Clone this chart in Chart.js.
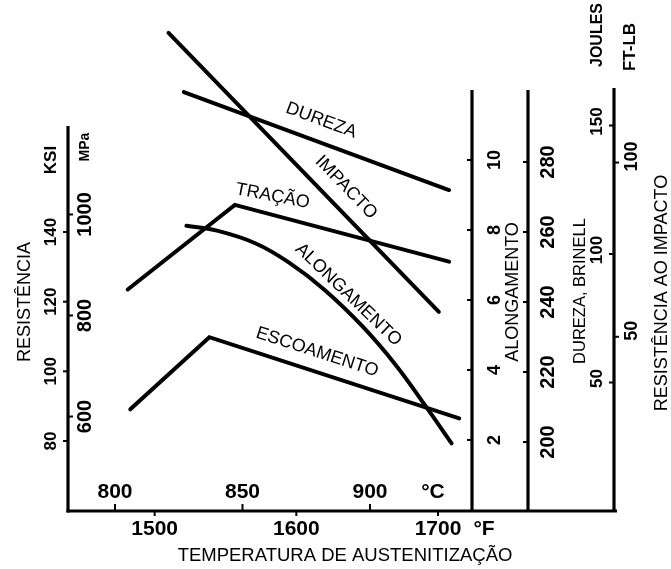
<!DOCTYPE html>
<html lang="pt">
<head>
<meta charset="utf-8">
<title>Temperatura de austenitização</title>
<script src="https://cdn.jsdelivr.net/npm/chart.js@4.4.1/dist/chart.umd.min.js"></script>
<style>
  html, body { margin: 0; padding: 0; background: #fff; }
  #wrap { width: 671px; height: 569px; }
</style>
</head>
<body>
<div id="wrap"><canvas id="chart" width="671" height="569"></canvas></div>
<script>
// Curves. x is always °C, each curve has its own y unit.
const tempDureza = [827, 931];
const durezaHB = [300, 272];

const tempImpacto = [821, 927];
const impactoJ = [186, 77.5];

const tempTracao = [805, 847, 931];
const tracaoKsi = [123.5, 147.8, 131.5];

const tempEscoamento = [806, 837, 935];
const escoamentoKsi = [89.1, 109.8, 86.5];

const tempAlongamento = [828, 840, 855, 868, 882, 897, 910, 921, 932];
const alongamentoPct = [8.12, 7.98, 7.62, 7.08, 6.3, 5.25, 4.15, 3.05, 1.9];

// tick labels
const ksiTicks = [80, 100, 120, 140];
const mpaTicks = [600, 800, 1000];
const alongTicks = [2, 4, 6, 8, 10];
const brinellTicks = [200, 220, 240, 260, 280];
const joulesTicks = [50, 100, 150];
const ftlbTicks = [50, 100];
const celsiusTicks = [800, 850, 900];
const fahrenheitTicks = [1500, 1600, 1700];

const FONT = '"Liberation Sans", Arial, sans-serif';
const bold = (px) => `bold ${px}px ${FONT}`;
const plain = (px) => `${px}px ${FONT}`;

// frame geometry (pixels) - the axis lines of the original drawing
const frame = { alongX: 472, hbX: 528, baseRight: 617, leftTop: 126, alongTop: 90, hbTop: 90, impactTop: 88 };

// curve names, where along the curve (°C) and how far off it the name sits
const curveLabels = [
  { ds: 0, text: "DUREZA", t: 878, d: 21 },
  { ds: 1, text: "IMPACTO", t: 885, d: 20 },
  { ds: 2, text: "TRAÇÃO", t: 860, d: 18, angle: 11 },
  { ds: 3, text: "ALONGAMENTO", t: 888, d: 13 },
  { ds: 4, text: "ESCOAMENTO", t: 877, d: 19 },
];

const toPts = (xs, ys) => xs.map((x, i) => ({ x, y: ys[i] }));
const fToC = (f) => (f - 32) * 5 / 9;
const mpaToKsi = (m) => m / 6.894757;
const ftlbToJ = (f) => f * 1.355818;

function seg(ctx, x1, y1, x2, y2) {
  ctx.beginPath();
  ctx.moveTo(x1, y1);
  ctx.lineTo(x2, y2);
  ctx.stroke();
}

function vText(ctx, text, x, y, font) {
  ctx.save();
  ctx.translate(x, y);
  ctx.rotate(-Math.PI / 2);
  ctx.font = font;
  ctx.fillText(text, 0, 0);
  ctx.restore();
}

function interp(xs, ys, t) {
  for (let i = 0; i < xs.length - 1; i++) {
    if (t >= xs[i] && t <= xs[i + 1]) {
      const f = (t - xs[i]) / (xs[i + 1] - xs[i]);
      return ys[i] + f * (ys[i + 1] - ys[i]);
    }
  }
  return t < xs[0] ? ys[0] : ys[ys.length - 1];
}

const axesPlugin = {
  id: "axes",
  afterDatasetsDraw(chart) {
    const { ctx, chartArea: a, scales } = chart;
    const x = scales.x, ksi = scales.ksi, al = scales.along, hb = scales.hb, jl = scales.joule;
    ctx.save();
    ctx.strokeStyle = "#000";
    ctx.fillStyle = "#000";
    ctx.textAlign = "center";
    ctx.textBaseline = "middle";

    // axis lines
    ctx.lineWidth = 3.2;
    seg(ctx, a.left, frame.leftTop, a.left, a.bottom + 1.5);
    seg(ctx, frame.alongX, frame.alongTop, frame.alongX, a.bottom);
    seg(ctx, frame.hbX, frame.hbTop, frame.hbX, a.bottom);
    seg(ctx, a.right, frame.impactTop, a.right, a.bottom);
    seg(ctx, a.left - 1.5, a.bottom, frame.baseRight, a.bottom);

    ctx.lineWidth = 2;
    // left: KSI / MPa
    ksiTicks.forEach((v) => {
      const y = ksi.getPixelForValue(v);
      seg(ctx, a.left - 5, y, a.left, y);
      vText(ctx, String(v), 51, y, bold(17));
    });
    mpaTicks.forEach((v) => {
      const y = ksi.getPixelForValue(mpaToKsi(v));
      seg(ctx, a.left, y, a.left + 5, y);
      vText(ctx, String(v), 85, y, bold(20));
    });
    vText(ctx, "KSI", 51, 160, bold(17));
    vText(ctx, "MPa", 85, 147, bold(14));
    vText(ctx, "RESISTÊNCIA", 25, 302, plain(18));

    // alongamento
    alongTicks.forEach((v) => {
      const y = al.getPixelForValue(v);
      seg(ctx, frame.alongX - 5, y, frame.alongX, y);
      vText(ctx, String(v), 495, y, bold(18));
    });
    vText(ctx, "ALONGAMENTO", 513, 292, plain(18));

    // dureza brinell
    brinellTicks.forEach((v) => {
      const y = hb.getPixelForValue(v);
      seg(ctx, frame.hbX - 5, y, frame.hbX, y);
      vText(ctx, String(v), 548, y, bold(20));
    });
    vText(ctx, "DUREZA, BRINELL", 580, 291, plain(16.5));

    // impacto: joules / ft-lb
    joulesTicks.forEach((v) => {
      const y = jl.getPixelForValue(v);
      seg(ctx, a.right - 5, y, a.right, y);
      vText(ctx, String(v), 597, y - 4, bold(17));
    });
    ftlbTicks.forEach((v) => {
      const y = jl.getPixelForValue(ftlbToJ(v));
      seg(ctx, a.right, y, a.right + 5, y);
      vText(ctx, String(v), 632, y - 6, bold(18));
    });
    vText(ctx, "JOULES", 598, 35, bold(16));
    vText(ctx, "FT-LB", 630, 47, bold(17));
    vText(ctx, "RESISTÊNCIA AO IMPACTO", 662, 293, plain(18));

    // temperature, °C inside, °F below
    ctx.font = bold(21);
    celsiusTicks.forEach((v) => {
      const px = x.getPixelForValue(v);
      seg(ctx, px, a.bottom - 7, px, a.bottom);
      ctx.fillText(String(v), px, 492);
    });
    ctx.fillText("°C", 433, 492);
    fahrenheitTicks.forEach((v) => {
      const px = x.getPixelForValue(fToC(v));
      seg(ctx, px, a.bottom, px, a.bottom + 5);
      ctx.fillText(String(v), px, 529);
    });
    ctx.fillText("°F", 484, 529);
    ctx.font = plain(18.5);
    ctx.fillText("TEMPERATURA DE AUSTENITIZAÇÃO", 345, 556);

    // curve names
    ctx.font = plain(18);
    curveLabels.forEach((lb) => {
      const ds = chart.data.datasets[lb.ds];
      const ys = scales[ds.yAxisID];
      const xs = ds.data.map((p) => p.x), vs = ds.data.map((p) => p.y);
      const px = (t) => [x.getPixelForValue(t), ys.getPixelForValue(interp(xs, vs, t))];
      const [x0, y0] = px(lb.t);
      const [xa, ya] = px(lb.t - 3);
      const [xb, yb] = px(lb.t + 3);
      const th = Math.atan2(yb - ya, xb - xa);
      const cx = x0 + lb.d * Math.sin(th), cy = y0 - lb.d * Math.cos(th);
      ctx.save();
      ctx.translate(cx, cy);
      ctx.rotate(lb.angle != null ? lb.angle * Math.PI / 180 : th);
      ctx.fillText(lb.text, 0, 0);
      ctx.restore();
    });
    ctx.restore();
  },
};

const lineStyle = {
  borderColor: "#000",
  borderWidth: 4,
  pointRadius: 0,
  fill: false,
  borderCapStyle: "round",
  borderJoinStyle: "miter",
};

new Chart(document.getElementById("chart"), {
  type: "line",
  data: {
    datasets: [
      { ...lineStyle, label: "DUREZA", yAxisID: "hb", data: toPts(tempDureza, durezaHB) },
      { ...lineStyle, label: "IMPACTO", yAxisID: "joule", data: toPts(tempImpacto, impactoJ) },
      { ...lineStyle, label: "TRAÇÃO", yAxisID: "ksi", data: toPts(tempTracao, tracaoKsi) },
      { ...lineStyle, label: "ALONGAMENTO", yAxisID: "along", data: toPts(tempAlongamento, alongamentoPct), tension: 0.4 },
      { ...lineStyle, label: "ESCOAMENTO", yAxisID: "ksi", data: toPts(tempEscoamento, escoamentoKsi) },
    ],
  },
  options: {
    responsive: false,
    devicePixelRatio: 1,
    animation: false,
    layout: { padding: { left: 68, right: 57, top: 20, bottom: 58 } },
    plugins: { legend: { display: false }, tooltip: { enabled: false } },
    scales: {
      x: { type: "linear", display: false, min: 781.57, max: 995.69 },
      ksi: { type: "linear", display: false, min: 59.9, max: 200.87 },
      along: { type: "linear", display: false, min: -0.03, max: 14 },
      hb: { type: "linear", display: false, min: 180.3, max: 320.57 },
      joule: { type: "linear", display: false, min: 0, max: 191.05 },
    },
  },
  plugins: [axesPlugin],
});
</script>
</body>
</html>
